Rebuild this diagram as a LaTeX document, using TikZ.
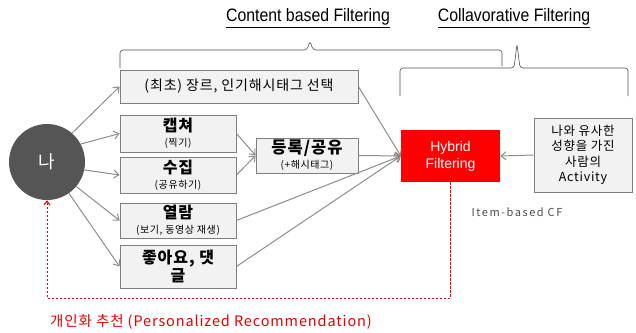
\documentclass[tikz,border=0pt]{standalone}
\usepackage{fontspec}
\setmainfont[LetterSpace=6]{Noto Sans CJK KR}
\newfontfamily\titlefont[FakeStretch=0.88]{Liberation Sans}
\newfontfamily\hybfont{Liberation Sans}
\newfontfamily\itemfont[LetterSpace=14]{Noto Sans CJK KR}
\usetikzlibrary{arrows.meta}
\definecolor{boxfill}{HTML}{F2F2F2}
\definecolor{boxline}{HTML}{7F7F7F}
\definecolor{conn}{HTML}{8C8C8C}
\definecolor{circ}{HTML}{555555}
\definecolor{hred}{HTML}{FF0000}
\definecolor{dred}{HTML}{E60000}
\begin{document}
\begin{tikzpicture}[x=1pt,y=-1pt,
  gbox/.style={draw=boxline, fill=boxfill, line width=0.8pt, inner sep=0pt, align=center},
  twoline/.style={gbox, font=\fontsize{10}{15}\selectfont},
  conn/.style={draw=conn, line width=1pt, -{Straight Barb[length=5pt,width=8pt]}},
  brace/.style={draw=black!70, line width=0.6pt, rounded corners=3pt},
  title/.style={font=\titlefont\fontsize{18}{20}\selectfont, inner sep=0pt},
]
\useasboundingbox (0,0) rectangle (636,332);

% titles
\node[title] (t1) at (308,18) {\underline{Content based Filtering}};
\node[title] (t2) at (514,18) {\underline{Collavorative Filtering}};

% braces
\draw[brace] (120,68) -- (120,50) -- (307,50) -- (310,41) -- (313,50) -- (502,50) -- (502,66);
\draw[brace] (400,96) -- (400,68) -- (514,68) -- (517,44) -- (520,68) -- (628,68) -- (628,96);

% circle
\node[circle, fill=circ, minimum size=76pt, inner sep=0pt, text=white,
      font=\fontsize{18}{20}\selectfont] (me) at (47,162) {나};

% boxes
\node[gbox, minimum width=238pt, minimum height=33pt, font=\fontsize{14}{16}\selectfont]
  (b1) at (239,86.5) {(최초) 장르, 인기해시태그 선택};
\node[twoline, minimum width=116pt, minimum height=37pt] (cap) at (178,133.5)
  {{\fontsize{16}{17}\selectfont\bfseries 캡쳐}\\(찍기)};
\node[twoline, minimum width=116pt, minimum height=36pt] (col) at (178,175)
  {{\fontsize{16}{17}\selectfont\bfseries 수집}\\(공유하기)};
\node[twoline, minimum width=116pt, minimum height=35pt] (view) at (178,220.5)
  {{\fontsize{16}{17}\selectfont\bfseries 열람}\\(보기, 동영상 재생)};
\node[gbox, minimum width=116pt, minimum height=43pt, font=\fontsize{16}{18}\selectfont\bfseries]
  (like) at (178,266.5) {좋아요, 댓\\글};
\node[twoline, minimum width=102pt, minimum height=35pt] (reg) at (307,155.5)
  {{\fontsize{16.5}{17}\selectfont\bfseries 등록/공유}\\(+해시태그)};
\node[fill=hred, minimum width=99pt, minimum height=52pt, inner sep=0pt, align=center,
      text=white, font=\hybfont\fontsize{14}{17}\selectfont] (hyb) at (450.5,156) {Hybrid\\Filtering};
\node[gbox, minimum width=98pt, minimum height=74pt, font=\fontsize{12.5}{15.5}\selectfont]
  (sim) at (583,155) {나와 유사한\\성향을 가진\\사람의\\Activity};

% label
\node[inner sep=0pt, text=black!70, font=\itemfont\fontsize{11}{12}\selectfont] (ib) at (517,212) {Item-based CF};

% connectors from me
\draw[conn] (me.49) -- (b1.west);
\draw[conn] (me.28) -- (cap.west);
\draw[conn] (me.-12) -- (col.west);
\draw[conn] (me.-40) -- (view.west);
\draw[conn] (me.-55) -- (like.west);

% to reg
\draw[conn] (cap.east) -- (reg.west);
\draw[conn] (col.east) -- (reg.west);

% to hybrid
\draw[conn] (b1.east) -- (hyb.west);
\draw[conn] (reg.east) -- (hyb.west);
\draw[conn] (view.east) -- (hyb.west);
\draw[conn] (like.east) -- (hyb.west);
\draw[conn] (sim.west) -- (hyb.east);

% personalized recommendation
\coordinate (turn) at (me.south |- 0,298);
\draw[draw=dred, line width=1pt, dash pattern=on 2.5pt off 1.5pt,
      -{Straight Barb[length=4pt,width=6pt]}] (hyb.south) |- (turn) -- (me.south);
\node[anchor=west, inner sep=0pt, text=dred, font=\fontsize{14.5}{16}\selectfont] (rec) at (50,322)
  {개인화 추천 (Personalized Recommendation)};
\end{tikzpicture}
\end{document}
